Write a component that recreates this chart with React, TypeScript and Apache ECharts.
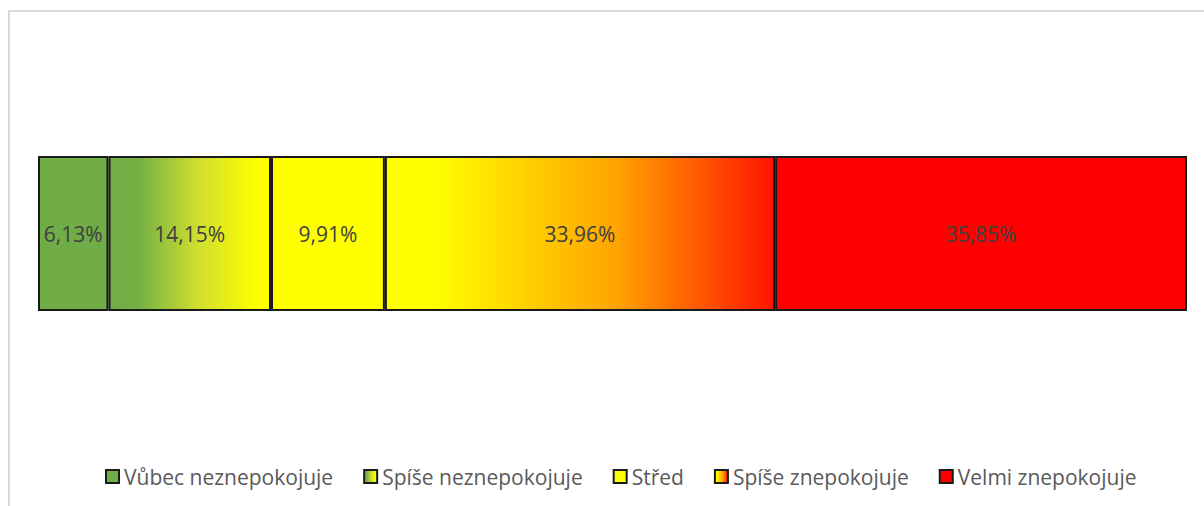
import React, { useEffect, useRef } from "react";
import * as echarts from "echarts";

const seriesNames = [
  "Vůbec neznepokojuje",
  "Spíše neznepokojuje",
  "Střed",
  "Spíše znepokojuje",
  "Velmi znepokojuje",
];
const shares = [6.13, 14.15, 9.91, 33.96, 35.85];
const rowCategory = [""];

const fills: any[] = [
  "#70ad47",
  new echarts.graphic.LinearGradient(0, 0, 1, 0, [
    { offset: 0, color: "#70ad47" },
    { offset: 0.18, color: "#74b045" },
    { offset: 0.55, color: "#cfde2f" },
    { offset: 0.92, color: "#ffff00" },
    { offset: 1, color: "#ffff00" },
  ]),
  "#ffff00",
  new echarts.graphic.LinearGradient(0, 0, 1, 0, [
    { offset: 0, color: "#ffff00" },
    { offset: 0.12, color: "#ffff00" },
    { offset: 0.6, color: "#ffa200" },
    { offset: 1, color: "#ff1400" },
  ]),
  "#ff0000",
];

export default function App() {
  const ref = useRef<HTMLDivElement>(null);
  useEffect(() => {
    if (!ref.current) return;
    const chart = echarts.init(ref.current, undefined, { renderer: "svg" });
    chart.setOption({
      animation: false,
      backgroundColor: "#ffffff",
      textStyle: { fontFamily: "Open Sans" },
      grid: { left: 38, right: 17, top: 156, bottom: 195, containLabel: false },
      xAxis: { type: "value", min: 0, max: 100, show: false },
      yAxis: { type: "category", data: rowCategory, show: false },
      legend: {
        bottom: 14,
        left: 100,
        itemWidth: 13,
        itemHeight: 13,
        itemGap: 30,
        icon: "rect",
        textStyle: { fontSize: 21, color: "#595959", fontFamily: "Open Sans" },
        data: seriesNames,
      },
      graphic: [
        { type: "line", shape: { x1: 8, y1: 11, x2: 1204, y2: 11 }, style: { stroke: "#d9d9d9", lineWidth: 2 } },
        { type: "line", shape: { x1: 9, y1: 10, x2: 9, y2: 506 }, style: { stroke: "#d9d9d9", lineWidth: 2 } },
      ],
      series: seriesNames.map((name, i) => ({
        name,
        type: "bar",
        stack: "total",
        barWidth: 155,
        data: [shares[i]],
        itemStyle: { color: fills[i], borderColor: "#1a1a1a", borderWidth: 2 },
        label: {
          show: true,
          position: "inside",
          fontSize: 21,
          color: "#404040",
          fontFamily: "Open Sans",
          formatter: (p: any) => p.value.toFixed(2).replace(".", ",") + "%",
        },
      })),
    });
    return () => chart.dispose();
  }, []);
  return (
    <div
      ref={ref}
      style={{ position: "absolute", left: 0, top: 0, width: 1204, height: 506 }}
    />
  );
}
